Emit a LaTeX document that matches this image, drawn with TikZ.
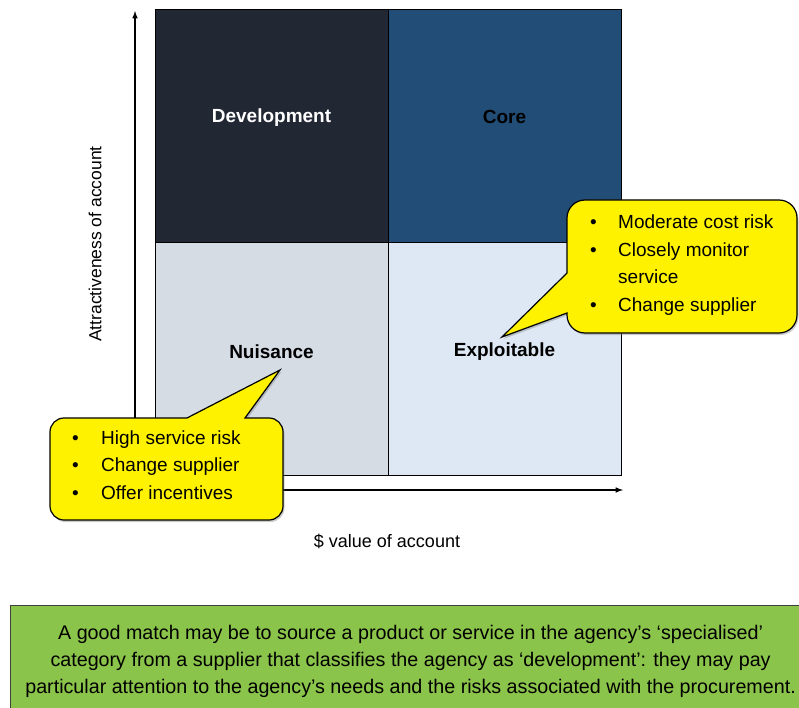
\documentclass[tikz,border=0pt]{standalone}
\usepackage{fontspec}
\setmainfont{Liberation Sans}
\usetikzlibrary{positioning,shadows}
\definecolor{devcol}{RGB}{33,39,51}
\definecolor{corecol}{RGB}{33,77,119}
\definecolor{nuiscol}{RGB}{213,220,228}
\definecolor{explcol}{RGB}{222,232,244}
\definecolor{notecol}{RGB}{139,196,74}
\tikzset{
  quad/.style={draw=black, line width=1pt, minimum width=233pt, minimum height=232.5pt, inner sep=0pt, outer sep=0pt},
  qlabel/.style={font=\fontsize{19}{22}\selectfont\bfseries},
  axis/.style={line width=1.5pt, -latex},
  callout/.style={draw=black, line width=1.2pt, fill=yellow, drop shadow={opacity=0.4, shadow xshift=1.5pt, shadow yshift=-2pt}},
  item/.style={anchor=base west, inner sep=0pt, font=\fontsize{19}{22}\selectfont},
  notebox/.style={draw=black!75, line width=1.2pt, fill=notecol, anchor=north west, minimum width=800pt, minimum height=112pt, align=center}
}
\begin{document}
\begin{tikzpicture}[x=1pt,y=-1pt]
\useasboundingbox (0,0) rectangle (799,708);
\coordinate (o) at (135,490);
\draw[axis] (o) -- (135,11);
\draw[axis] (o) -- (623,490);
\node[font=\fontsize{17.5}{20}\selectfont, rotate=90] (ylab) at (95,244) {Attractiveness of account};
\node[font=\fontsize{18}{20}\selectfont] (xlab) at (387,541) {\$ value of account};
% quadrants
\node[quad, fill=devcol] (dev) at (271.5,126.25) {};
\node[quad, fill=corecol, right=0pt of dev] (core) {};
\node[quad, fill=nuiscol, below=0pt of dev] (nuis) {};
\node[quad, fill=explcol, right=0pt of nuis] (expl) {};
\node[qlabel, text=white] (devlab) at ([yshift=9pt]dev) {Development};
\node[qlabel] (corelab) at ([yshift=9pt]core) {Core};
\node[qlabel] (nuislab) at ([yshift=7pt]nuis) {Nuisance};
\node[qlabel] (expllab) at ([yshift=7pt]expl) {Exploitable};
% callouts
\coordinate (ltip) at (280,370);
\draw[callout] (187,418) -- (ltip) -- (245,418) -- (269,418)
  arc[start angle=270, end angle=360, radius=14] -- (283,506)
  arc[start angle=0, end angle=90, radius=14] -- (64,520)
  arc[start angle=90, end angle=180, radius=14] -- (50,432)
  arc[start angle=180, end angle=270, radius=14] -- cycle;
\foreach \t [count=\i] in {High service risk, Change supplier, Offer incentives}{
  \node[item] (lb\i) at (72,{444+27.5*(\i-1)}) {\textbullet};
  \node[item] (l\i) at (101,{444+27.5*(\i-1)}) {\t};
}
\coordinate (rtip) at (502,337);
\draw[callout] (567,273) -- (567,218)
  arc[start angle=180, end angle=270, radius=18] -- (779,200)
  arc[start angle=270, end angle=360, radius=18] -- (797,315)
  arc[start angle=0, end angle=90, radius=18] -- (585,333)
  arc[start angle=90, end angle=180, radius=18] -- (567,313) -- (rtip) -- cycle;
\foreach \t [count=\i] in {Moderate cost risk, Closely monitor, service, Change supplier}
  \node[item] (r\i) at (618,{229+27.4*(\i-1)}) {\t};
\foreach \i in {1,2,4}
  \node[item] (rb\i) at (590,{229+27.4*(\i-1)}) {\textbullet};
% note
\node[notebox, font=\fontsize{19.7}{27}\selectfont] (note) at (10,605) {A good match may be to source a product or service in the agency’s ‘specialised’\\category from a supplier that classifies the agency as ‘development’: they may pay\\particular attention to the agency’s needs and the risks associated with the procurement.};
\end{tikzpicture}
\end{document}
